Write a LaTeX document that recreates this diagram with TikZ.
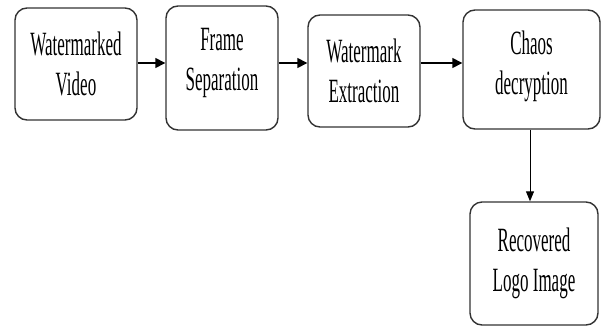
\documentclass[tikz,border=0pt]{standalone}
\usepackage{fontspec}
\setmainfont{Liberation Serif}[FakeStretch=0.5]
\usetikzlibrary{arrows.meta}
\begin{document}
\begin{tikzpicture}[x=1pt,y=-1pt,
  stepbox/.style={draw=black!80, line width=1.4pt, rounded corners=12pt, fill=white,
    inner sep=0pt, align=center, font=\fontsize{34}{40}\selectfont},
  boxtext/.style={align=center, font=\fontsize{34}{40}\selectfont, inner sep=0pt},
  conn/.style={line width=1.5pt, -{Triangle[length=10pt,width=10pt]}},
  vconn/.style={line width=1pt, -{Triangle[length=10pt,width=8pt]}}]
\useasboundingbox (0,0) rectangle (601,327);
\node[stepbox, minimum width=122pt, minimum height=112pt] (b1) at (76,64) {Watermarked\\Video};
\node[stepbox, minimum width=112pt, minimum height=124pt,
  label={[boxtext, yshift=5pt]center:Frame\\Separation}] (b2) at (222,68) {};
\node[stepbox, minimum width=112pt, minimum height=112pt] (b3) at (364,71) {Watermark\\Extraction};
\node[stepbox, minimum width=137pt, minimum height=119pt,
  label={[boxtext, yshift=3pt]center:Chaos\\decryption}] (b4) at (531.5,69.5) {};
\node[stepbox, minimum width=128pt, minimum height=123pt] (b5) at (534,263.5) {Recovered\\Logo Image};
\coordinate (h) at (0,63);
\draw[conn] (h -| b1.east) -- (h -| b2.west);
\draw[conn] (h -| b2.east) -- (h -| b3.west);
\draw[conn] (h -| b3.east) -- (h -| b4.west);
\coordinate (v) at (530,0);
\draw[vconn] (v |- b4.south) -- (v |- b5.north);
\end{tikzpicture}
\end{document}
